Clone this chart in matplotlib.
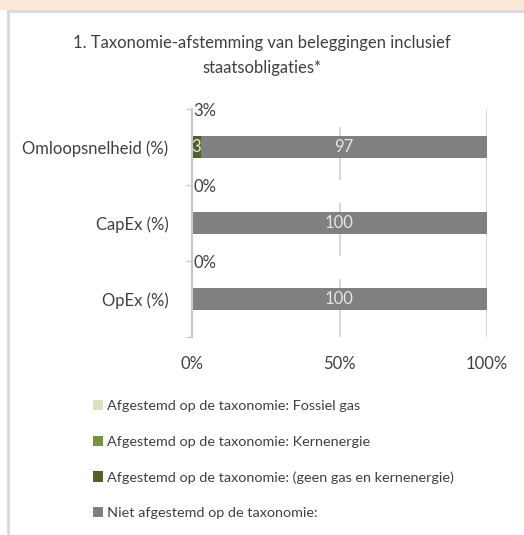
import matplotlib.pyplot as plt
from matplotlib.patches import Rectangle, Patch
from matplotlib.lines import Line2D
import numpy as np

plt.rcParams['font.family'] = ['Lato', 'DejaVu Sans']

# data (bottom to top in the chart)
categories = ['OpEx (%)', 'CapEx (%)', 'Omloopsnelheid (%)']
fossiel_gas = [0, 0, 0]
kernenergie = [0, 0, 0]
geen_gas_kern = [0, 0, 3]
niet_afgestemd = [100, 100, 97]

series_names = ['Afgestemd op de taxonomie: Fossiel gas',
                'Afgestemd op de taxonomie: Kernenergie',
                'Afgestemd op de taxonomie: (geen gas en kernenergie)',
                'Niet afgestemd op de taxonomie:']
colors = ['#D7E4BD', '#77933C', '#4F6228', '#808080']
text_col = '#404040'

fig = plt.figure(figsize=(5.24, 5.35), dpi=100)
fig.patch.set_facecolor('white')

# peach band + panel border
fig.add_artist(Rectangle((0, 1 - 10 / 535), 1, 10 / 535, transform=fig.transFigure,
                         facecolor='#FBE9D8', edgecolor='none'))
fig.add_artist(Line2D([8 / 524, 1], [1 - 11 / 535, 1 - 11 / 535], transform=fig.transFigure,
                      color='#D9D9D9', lw=2))
fig.add_artist(Line2D([8 / 524, 8 / 524], [0, 1 - 11 / 535], transform=fig.transFigure,
                      color='#D9D9D9', lw=2))

ax = fig.add_axes([192 / 524, 1 - 337 / 535, 295 / 524, 228 / 535])
y = np.arange(len(categories))
h = 0.29
left = np.zeros(len(categories))
all_series = [fossiel_gas, kernenergie, geen_gas_kern, niet_afgestemd]
for vals, name, c in zip(all_series, series_names, colors):
    bars = ax.barh(y, vals, height=h, left=left, color=c, label=name)
    labs = [str(v) if v > 0 else '' for v in vals]
    ax.bar_label(bars, labels=labs, label_type='center', color='#E6E6E6', fontsize=12)
    left = left + np.array(vals)

# aligned share label above each bar (+ hidden label boxes that break the 50% gridline)
aligned = np.array(fossiel_gas) + np.array(kernenergie) + np.array(geen_gas_kern)
for yi, a in zip(y, aligned):
    ax.text(0.5, yi + 0.47, f'{a}%', va='center', ha='left', fontsize=12, color=text_col)
    ax.text(50, yi + 0.42, ' ', va='center', ha='center', fontsize=12,
            bbox=dict(facecolor='white', edgecolor='none', pad=2.5))

ax.set_xlim(0, 100)
ax.set_ylim(-0.5, 2.5)
ax.set_xticks([0, 50, 100])
ax.set_xticklabels(['0%', '50%', '100%'])
ax.set_yticks(y)
ax.set_yticklabels(categories)
ax.set_yticks(np.arange(-0.5, 3, 1), minor=True)
ax.tick_params(axis='y', which='major', length=0, pad=17, labelsize=12, labelcolor=text_col)
ax.tick_params(axis='y', which='minor', length=4, color='#C8C8C8', width=1)
ax.tick_params(axis='x', length=0, pad=14, labelsize=12, labelcolor=text_col)
ax.grid(axis='x', color='#D9D9D9', lw=1.5)
ax.set_axisbelow(True)
for s in ['top', 'right', 'bottom']:
    ax.spines[s].set_visible(False)
ax.spines['left'].set_color('#C8C8C8')
ax.spines['left'].set_linewidth(1.5)

fig.text(0.5, 1 - 43 / 535, '1. Taxonomie-afstemming van beleggingen inclusief',
         ha='center', va='center', fontsize=12, color=text_col)
fig.text(0.5, 1 - 68 / 535, 'staatsobligaties*',
         ha='center', va='center', fontsize=12, color=text_col)

handles = [Patch(facecolor=c, edgecolor='none') for c in colors]
fig.legend(handles, series_names, loc='upper left', bbox_to_anchor=(93 / 524, 1 - 400 / 535),
           frameon=False, fontsize=10.4, handlelength=0.7, handleheight=0.7, handletextpad=0.25,
           labelspacing=1.62, borderpad=0, borderaxespad=0, labelcolor=text_col)

fig.savefig('out.png', dpi=100)
